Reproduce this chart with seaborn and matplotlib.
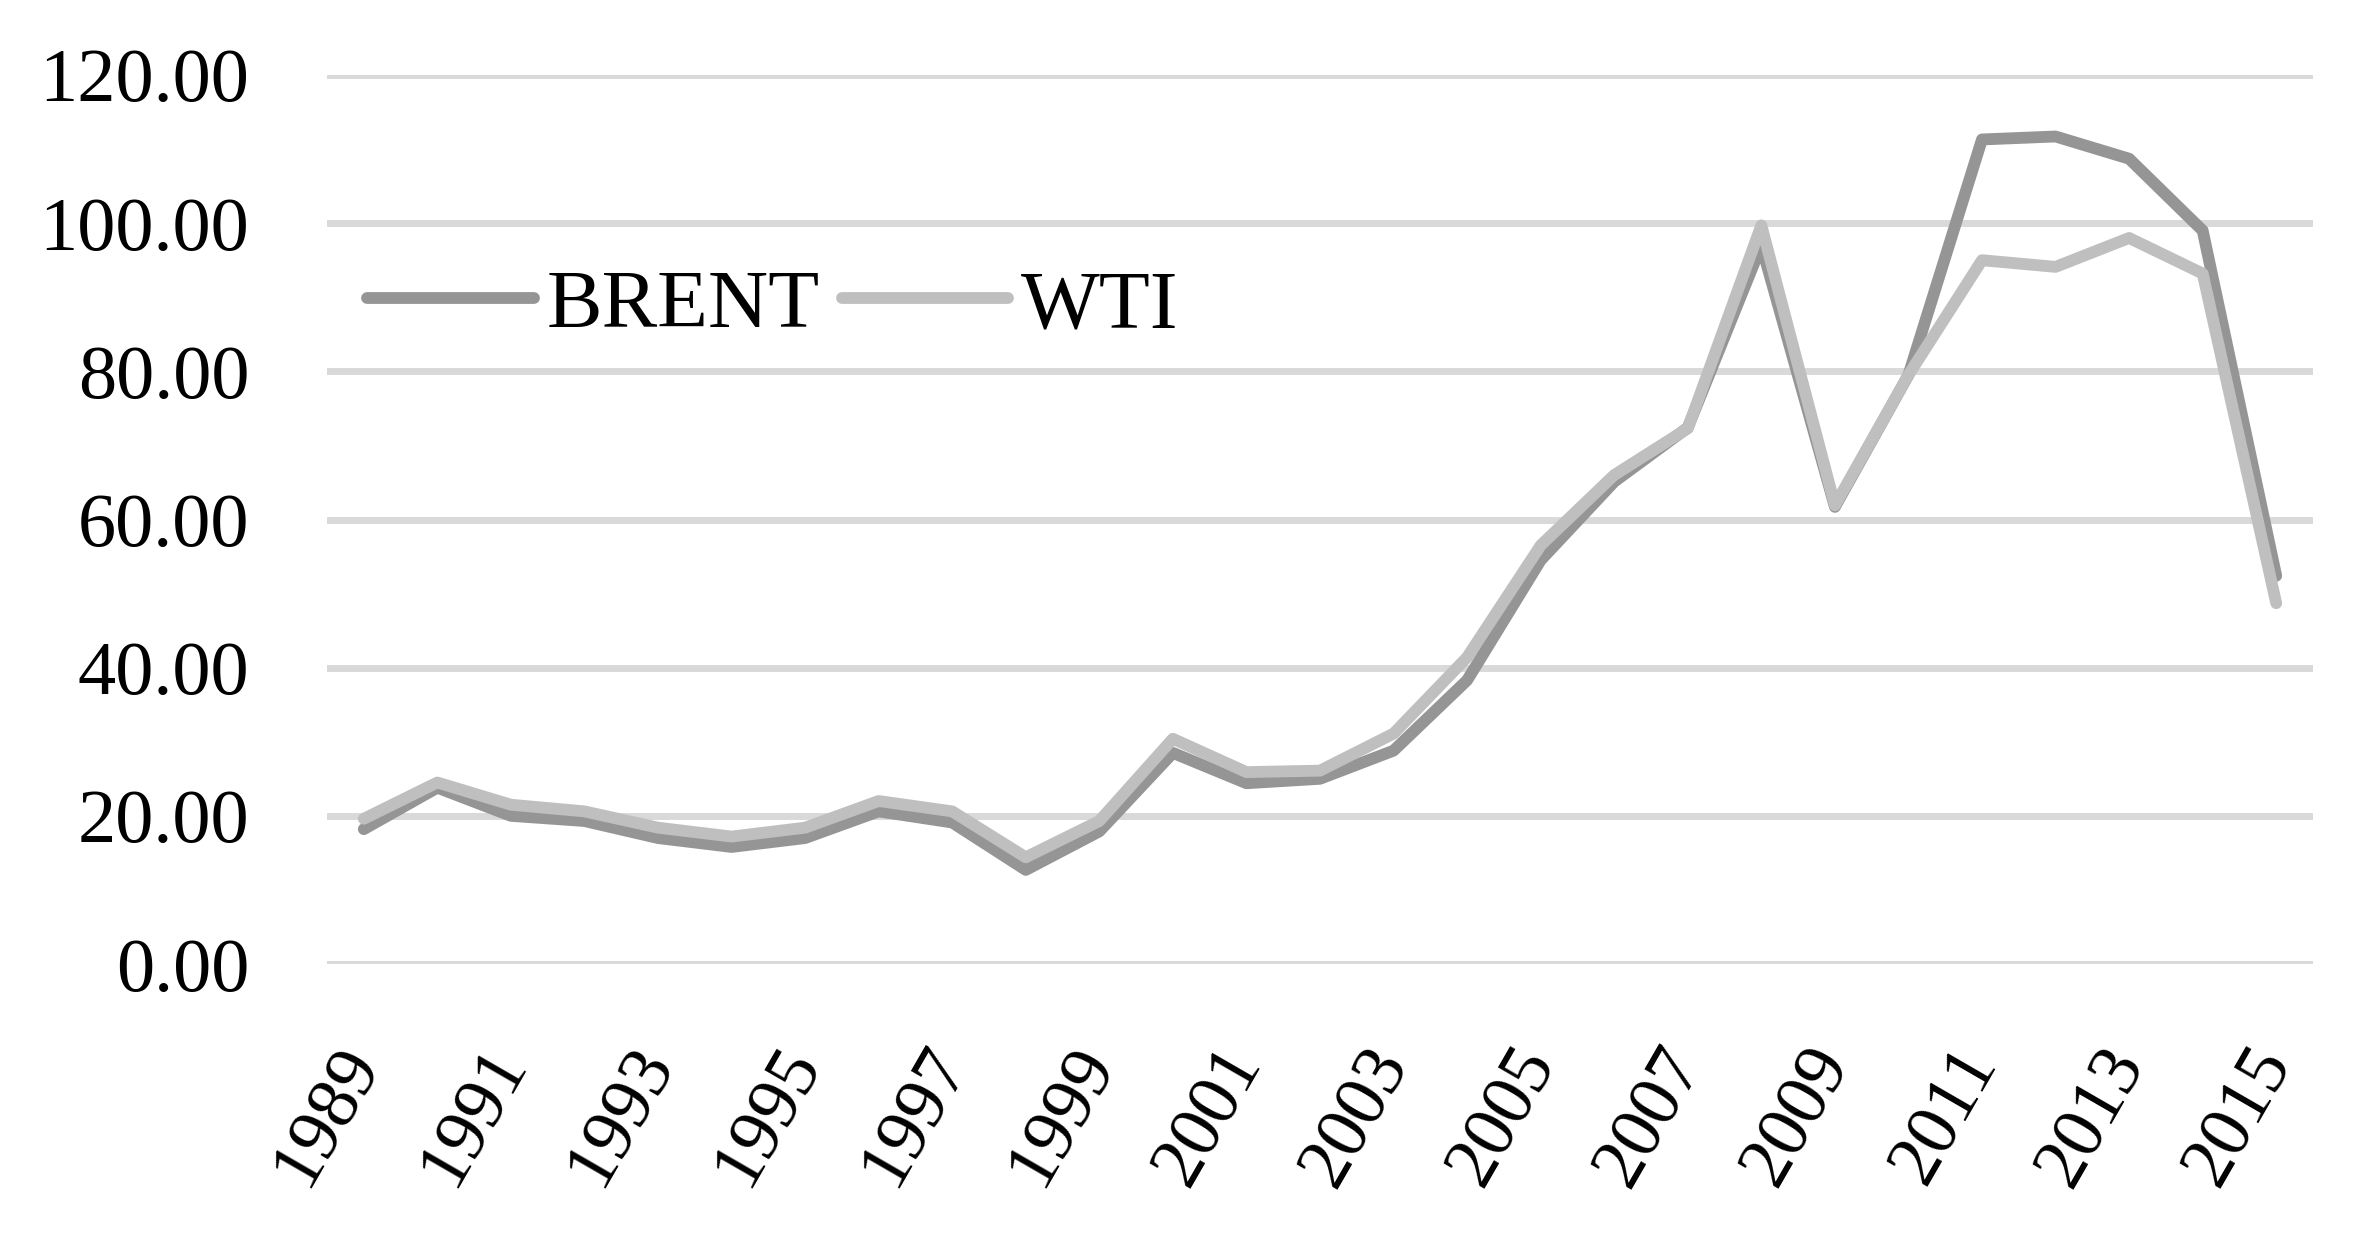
import matplotlib
matplotlib.use("Agg")
import matplotlib.pyplot as plt
import pandas as pd
import seaborn as sns

# annual average crude prices (USD / bbl)
years = list(range(1989, 2016))
brent = [18.2, 23.8, 20.0, 19.3, 17.0, 15.8, 17.0, 20.6, 19.1, 12.7,
         17.9, 28.5, 24.4, 25.0, 28.8, 38.3, 54.5, 65.1, 72.4, 97.0,
         61.7, 79.5, 111.3, 111.7, 108.7, 99.0, 52.4]
wti = [19.6, 24.5, 21.5, 20.6, 18.4, 17.2, 18.4, 22.0, 20.6, 14.4,
       19.3, 30.4, 25.9, 26.1, 31.1, 41.4, 56.5, 66.0, 72.3, 99.7,
       61.9, 79.5, 95.0, 94.1, 98.0, 93.2, 48.7]
series_names = ["BRENT", "WTI"]
series_colors = ["#959595", "#bfbfbf"]
y_ticks = [0, 20, 40, 60, 80, 100, 120]
x_ticks = list(range(1989, 2016, 2))

df = pd.DataFrame({
    "year": years * 2,
    "price": brent + wti,
    "series": [series_names[0]] * len(years) + [series_names[1]] * len(years),
})

sns.set_style("white")
plt.rcParams["font.family"] = ["Liberation Serif", "DejaVu Serif"]
plt.rcParams["text.color"] = "black"
plt.rcParams["xtick.color"] = "black"
plt.rcParams["ytick.color"] = "black"

fig = plt.figure(figsize=(23.57, 12.4), dpi=100)
ax = fig.add_axes([327 / 2357, 1 - 964 / 1240, (2313 - 327) / 2357, (964 - 75) / 1240])

sns.lineplot(
    data=df, x="year", y="price", hue="series",
    hue_order=series_names, palette=series_colors,
    linewidth=8.5, ax=ax, legend=True,
    solid_capstyle="round", solid_joinstyle="round",
)

ax.set_xlim(1988.5, 2015.5)
ax.set_ylim(0, 120)
ax.set_yticks(y_ticks)
ax.set_yticklabels([f"{v:.2f}" for v in y_ticks], fontsize=55)
ax.set_xticks(x_ticks)
ax.set_xticklabels([str(y) for y in x_ticks], fontsize=53, rotation=60,
                   ha="right", va="center", rotation_mode="anchor")
ax.tick_params(axis="y", length=0, pad=56)
ax.tick_params(axis="x", length=0, pad=64)
ax.set_xlabel("")
ax.set_ylabel("")

ax.yaxis.grid(True, color="#d9d9d9", linewidth=5)
ax.xaxis.grid(False)
ax.set_axisbelow(True)
for s in ax.spines.values():
    s.set_visible(False)

leg = ax.legend(
    loc="center left", bbox_to_anchor=((367 - 327) / 1986, (964 - 307) / 889),
    ncol=2, frameon=False, fontsize=60, handlelength=2.0,
    handletextpad=0.15, columnspacing=0.27, borderaxespad=0, borderpad=0,
)
for line in leg.get_lines():
    line.set_linewidth(8.5)
    line.set_solid_capstyle("round")

fig.savefig("out.png", dpi=100)
